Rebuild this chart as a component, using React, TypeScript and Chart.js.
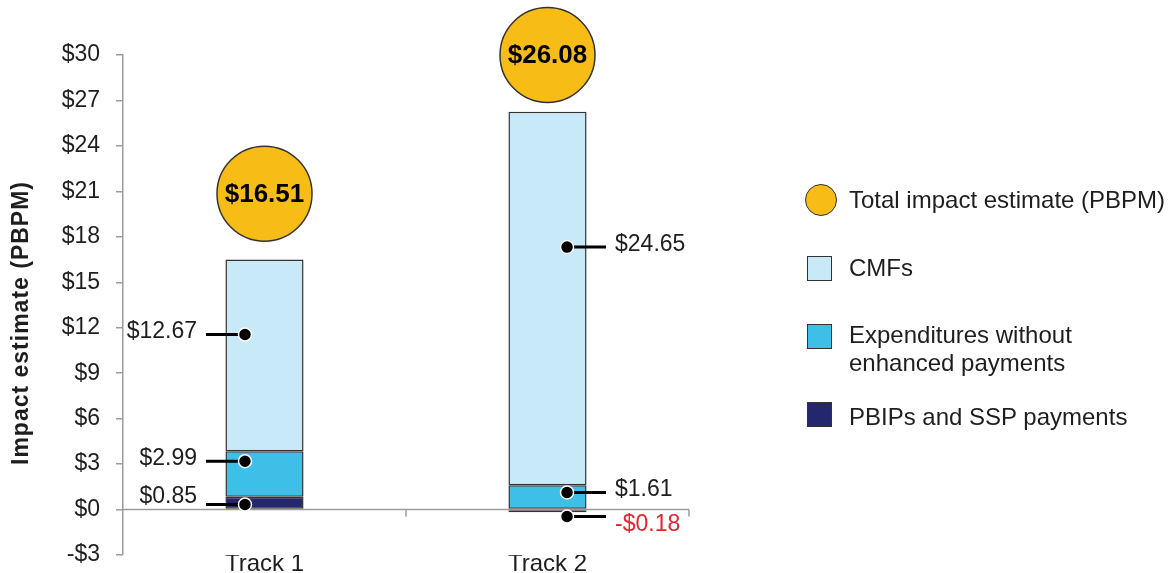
import React, { useEffect, useRef } from 'react';
import { Chart, registerables } from 'chart.js';

Chart.register(...registerables);

// ---------------- data ----------------
const categories = ['Track 1', 'Track 2'];
const pbipValues = [0.85, -0.18];
const expenditureValues = [2.99, 1.61];
const cmfValues = [12.67, 24.65];
const totalValues = [16.51, 26.08];
// vertical position (in $ units) of the total badge centre
const totalBadgeY = [20.85, 30.0];
// vertical position (in $ units) of each callout dot
const pbipCalloutY = [0.33, -0.46];
const expenditureCalloutY = [3.19, 1.13];
const cmfCalloutY = [11.55, 17.32];
const yMin = -3;
const yMax = 30;
const yStep = 3;

const seriesNames = {
  total: 'Total impact estimate (PBPM)',
  cmf: 'CMFs',
  exp: 'Expenditures without enhanced payments',
  pbip: 'PBIPs and SSP payments',
};
const yTitle = 'Impact estimate (PBPM)';

// ---------------- styles ----------------
const FONT = "Arial, 'Liberation Sans', Helvetica, sans-serif";
const COLORS = {
  cmf: '#C8E9F8',
  exp: '#3EBFE8',
  pbip: '#25276E',
  total: '#F8BC16',
  outline: '#333333',
  axis: '#9c9c9c',
  text: '#1e1e1e',
  negative: '#E3262E',
};

const fmtMoney = (v: number) => (v < 0 ? '-$' : '$') + Math.abs(v).toFixed(2);

// side of the bar on which callouts are drawn for each category (-1 left, +1 right)
const CALLOUT_SIDE = [-1, 1];
// small vertical nudges of the callout text relative to its dot, per series/category
const CALLOUT_TEXT_DY: Record<string, number[]> = {
  pbip: [-8, 8],
  exp: [-3, -3],
  cmf: [-3, -2],
};

const overlayPlugin = {
  id: 'overlay',
  beforeDatasetsDraw(chart: any) {
    const { ctx, chartArea, scales } = chart;
    const x = scales.x;
    const y = scales.y;
    const y0 = y.getPixelForValue(0);
    ctx.save();
    ctx.strokeStyle = COLORS.axis;
    ctx.lineWidth = 1.5;
    ctx.beginPath();
    ctx.moveTo(chartArea.left, y0);
    ctx.lineTo(chartArea.right, y0);
    for (let i = 0; i < categories.length; i++) {
      const bx = x.getPixelForValue(i + 0.5);
      ctx.moveTo(bx, y0);
      ctx.lineTo(bx, y0 + 7);
    }
    ctx.stroke();

    // y axis title
    ctx.translate(22, (chartArea.top + chartArea.bottom) / 2 + 18);
    ctx.rotate(-Math.PI / 2);
    ctx.fillStyle = COLORS.text;
    ctx.font = `bold 23px ${FONT}`;
    try {
      (ctx as any).letterSpacing = '1px';
    } catch (e) {}
    ctx.textAlign = 'center';
    ctx.textBaseline = 'middle';
    ctx.fillText(yTitle, 0, 0);
    ctx.restore();
  },
  afterDatasetsDraw(chart: any) {
    const { ctx, scales } = chart;
    const y = scales.y;
    const barMeta = chart.getDatasetMeta(0);
    const series: { key: string; values: number[]; anchors: number[] }[] = [
      { key: 'pbip', values: pbipValues, anchors: pbipCalloutY },
      { key: 'exp', values: expenditureValues, anchors: expenditureCalloutY },
      { key: 'cmf', values: cmfValues, anchors: cmfCalloutY },
    ];
    ctx.save();
    for (const s of series) {
      s.values.forEach((v, i) => {
        const bar = barMeta.data[i];
        const side = CALLOUT_SIDE[i];
        const dotX = bar.x + side * bar.width * 0.25;
        const dotY = y.getPixelForValue(s.anchors[i]);
        const endX = dotX + side * 39;
        ctx.strokeStyle = '#000';
        ctx.lineWidth = 3;
        ctx.beginPath();
        ctx.moveTo(dotX, dotY);
        ctx.lineTo(endX, dotY);
        ctx.stroke();
        ctx.beginPath();
        ctx.arc(dotX, dotY, 6.5, 0, Math.PI * 2);
        ctx.fillStyle = '#000';
        ctx.fill();
        ctx.lineWidth = 1.5;
        ctx.strokeStyle = '#ffffff';
        ctx.stroke();
        ctx.font = `23px ${FONT}`;
        ctx.textBaseline = 'middle';
        ctx.textAlign = side < 0 ? 'right' : 'left';
        ctx.fillStyle = v < 0 ? COLORS.negative : COLORS.text;
        ctx.fillText(fmtMoney(v), endX + side * 9, dotY + CALLOUT_TEXT_DY[s.key][i]);
      });
    }
    // total badge text
    const badgeMeta = chart.getDatasetMeta(3);
    badgeMeta.data.forEach((pt: any, i: number) => {
      ctx.font = `bold 26px ${FONT}`;
      ctx.textAlign = 'center';
      ctx.textBaseline = 'middle';
      ctx.fillStyle = '#000';
      ctx.fillText(fmtMoney(totalValues[i]), pt.x, pt.y + 1);
    });
    ctx.restore();
  },
};

function Legend() {
  const textStyle: React.CSSProperties = {
    position: 'absolute',
    left: 849,
    fontFamily: FONT,
    fontSize: 24,
    lineHeight: '28px',
    color: COLORS.text,
    whiteSpace: 'nowrap',
  };
  const sq = (top: number, color: string): React.CSSProperties => ({
    position: 'absolute',
    left: 807,
    top,
    width: 25,
    height: 25,
    background: color,
    border: `1.5px solid ${COLORS.outline}`,
    boxSizing: 'border-box',
  });
  return (
    <div style={{ position: 'absolute', left: 0, top: 0 }}>
      <div
        style={{
          position: 'absolute',
          left: 805,
          top: 184,
          width: 32,
          height: 32,
          borderRadius: '50%',
          background: COLORS.total,
          border: `1.5px solid ${COLORS.outline}`,
          boxSizing: 'border-box',
        }}
      />
      <div style={{ ...textStyle, top: 186 }}>{seriesNames.total}</div>
      <div style={sq(256, COLORS.cmf)} />
      <div style={{ ...textStyle, top: 254 }}>{seriesNames.cmf}</div>
      <div style={sq(324, COLORS.exp)} />
      <div style={{ ...textStyle, top: 321, width: 250, whiteSpace: 'normal' }}>{seriesNames.exp}</div>
      <div style={sq(402, COLORS.pbip)} />
      <div style={{ ...textStyle, top: 403 }}>{seriesNames.pbip}</div>
    </div>
  );
}

export default function App() {
  const canvasRef = useRef<HTMLCanvasElement | null>(null);

  useEffect(() => {
    document.body.style.margin = '0';
    if (!canvasRef.current) return;
    const barCommon = {
      borderColor: COLORS.outline,
      borderWidth: 1.5,
      borderSkipped: false as const,
      categoryPercentage: 1,
      barPercentage: 0.276,
      stack: 'impact',
    };
    const chart = new Chart(canvasRef.current, {
      type: 'bar',
      data: {
        labels: categories,
        datasets: [
          { ...barCommon, label: seriesNames.pbip, data: pbipValues, backgroundColor: COLORS.pbip },
          { ...barCommon, label: seriesNames.exp, data: expenditureValues, backgroundColor: COLORS.exp },
          { ...barCommon, label: seriesNames.cmf, data: cmfValues, backgroundColor: COLORS.cmf },
          {
            type: 'line',
            label: seriesNames.total,
            data: totalBadgeY,
            stack: 'badge',
            showLine: false,
            clip: false,
            pointRadius: 47.5,
            pointHoverRadius: 47.5,
            pointBackgroundColor: COLORS.total,
            pointBorderColor: COLORS.outline,
            pointBorderWidth: 1.5,
            backgroundColor: COLORS.total,
            borderColor: COLORS.outline,
          } as any,
        ],
      },
      options: {
        responsive: false,
        animation: false,
        devicePixelRatio: 1,
        layout: { autoPadding: false, padding: { left: 0, top: 55, right: 482, bottom: 0 } },
        plugins: { legend: { display: false }, tooltip: { enabled: false } },
        events: [],
        scales: {
          x: {
            stacked: true,
            grid: { display: false, drawTicks: false },
            border: { display: false },
            ticks: { font: { family: FONT, size: 24, lineHeight: 1 }, color: COLORS.text, padding: -3 },
          },
          y: {
            stacked: true,
            min: yMin,
            max: yMax,
            ticks: {
              stepSize: yStep,
              font: { family: FONT, size: 23 },
              color: COLORS.text,
              padding: 16,
              callback: (v: any) => (Number(v) < 0 ? `-$${Math.abs(Number(v))}` : `$${v}`),
            },
            grid: { drawOnChartArea: false, drawTicks: true, tickLength: 7, color: COLORS.axis, lineWidth: 1.5 },
            border: { display: true, color: COLORS.axis, width: 1.5 },
            afterFit: (scale: any) => {
              scale.width = 123;
              scale.paddingTop = 0;
              scale.paddingBottom = 0;
            },
          },
        },
      },
      plugins: [overlayPlugin],
    });
    return () => chart.destroy();
  }, []);

  return (
    <div style={{ position: 'relative', width: 1171, height: 573, background: '#fff', overflow: 'hidden' }}>
      <style>{'html,body{margin:0;padding:0;}'}</style>
      <canvas ref={canvasRef} width={1171} height={573} style={{ display: 'block', width: 1171, height: 573 }} />
      <Legend />
    </div>
  );
}
